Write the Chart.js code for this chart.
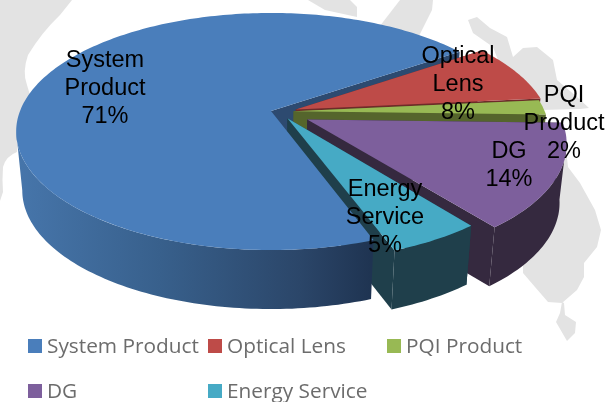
<!DOCTYPE html>
<html lang="en">
<head>
    <title>Product Mix</title>
    <script src="https://cdn.jsdelivr.net/npm/chart.js"></script>
    <style>
        body { margin: 0; background: #fff; }
        #wrap { position: relative; width: 607px; height: 402px; overflow: hidden; }
        #map, #pieChart { position: absolute; left: 0; top: 0; }
        .key { position: absolute; font: 20.8px "Open Sans", sans-serif; color: #6c6c6c; white-space: nowrap; line-height: 28px; }
        .key i { position: absolute; left: -19px; top: 8px; width: 14px; height: 14px; }
    </style>
</head>
<body>
<div id="wrap">
    <svg id="map" width="607" height="402" fill="#e3e3e3">
        <path d="M72 0 L60 15 Q42 32 28 55 Q22 72 27 85 L30 95 L20 115 L17 152 Q6 156 3 167 Q2 180 3 192 L0 201 L0 0 Z"/>
        <path d="M308 0 L325 10 L357 17 L357 7 L350 0 Z"/>
        <path d="M400 0 L383 22 L370 40 L417 40 L432 10 L433 0 Z"/>
        <path d="M468 20 L477 17 L490 28 L507 37 L513 57 L523 48 L537 47 L553 60 L557 80 L577 97 L589 108 L580 109 L540 110 L498 60 L493 47 L473 33 Z"/>
        <path d="M560 130 L565 140 L568 167 L580 183 L595 210 L601 230 L597 247 L584 263 L584 277 L577 290 L562 303 L548 302 L535 287 L523 273 L523 262 L500 240 Z"/>
        <path d="M562 302 L560 313 L556 322 L567 341 L575 333 L576 322 L565 315 L564 303 Z"/>
    </svg>
    <canvas id="pieChart" width="607" height="402"></canvas>
    <div id="legend"></div>
</div>

<script>
    const categories = ['System Product', 'Optical Lens', 'PQI Product', 'DG', 'Energy Service'];
    const shares = [71, 8, 2, 14, 5];
    const explosion = [0, 10, 9, 16, 9];
    const explosionDir = [0, 82, 92, 117, 134];
    const sliceColors = ['#4a7ebb', '#be4b48', '#98b954', '#7d5f9c', '#46aac5'];
    const wallColors = ['#2d4a70', '#6e2b29', '#55652c', '#35293f', '#1f3f4b'];
    const labelSpots = [[105, 61], [458, 57], [564, 96], [509, 152], [385, 190]];
    const legendSpots = [[47, 331], [227, 331], [406, 331], [47, 376], [227, 376]];

    // tilted view of the pie, the chart's own angles get mapped through this
    const view = { cx: 271, cy: 111, rx: 251, ry: 115, k: 0.173, depth: 59, shrink: 0.976 };

    function project(u, v, low) {
        const w = 1 - view.k * v;
        let x = view.cx + view.rx * u / w;
        let y = view.cy + view.ry * v / w;
        if (low) {
            x = view.cx + (x - view.cx) * view.shrink;
            y += view.depth;
        }
        return [x, y];
    }

    function sliceGeom(el, i) {
        let start = el.startAngle + Math.PI / 2;
        let end = el.endAngle + Math.PI / 2;
        if (start >= 2 * Math.PI) {
            start -= 2 * Math.PI;
            end -= 2 * Math.PI;
        }
        const dir = explosionDir[i] * Math.PI / 180;
        const shift = el.options.offset / 100;
        const ox = shift * Math.sin(dir);
        const oy = -shift * Math.cos(dir);
        const at = (a, low) => project(ox + Math.sin(a), oy - Math.cos(a), low);
        const tip = low => project(ox, oy, low);
        return { start, end, at, tip };
    }

    function poly(ctx, pts, fill) {
        ctx.beginPath();
        pts.forEach((p, i) => i ? ctx.lineTo(p[0], p[1]) : ctx.moveTo(p[0], p[1]));
        ctx.closePath();
        ctx.fillStyle = fill;
        ctx.fill();
    }

    function arcPoints(g, from, to, low) {
        const pts = [];
        const steps = Math.max(2, Math.ceil((to - from) / 0.02));
        for (let i = 0; i <= steps; i++) pts.push(g.at(from + (to - from) * i / steps, low));
        return pts;
    }

    function cutWall(ctx, g, a, fill) {
        poly(ctx, [g.tip(false), g.at(a, false), g.at(a, true), g.tip(true)], fill);
    }

    function rimWall(ctx, g, fill) {
        // only the part of the rim that faces the viewer
        const lo = 100 * Math.PI / 180, hi = 260 * Math.PI / 180;
        const from = Math.max(g.start, lo), to = Math.min(g.end, hi);
        if (to <= from) return;
        poly(ctx, arcPoints(g, from, to, false).concat(arcPoints(g, from, to, true).reverse()), fill);
    }

    function topFace(ctx, g, fill) {
        poly(ctx, [g.tip(false)].concat(arcPoints(g, g.start, g.end, false)), fill);
    }

    const tiltedPie = {
        id: 'tiltedPie',
        beforeDatasetsDraw(chart) {
            const ctx = chart.ctx;
            const arcs = chart.getDatasetMeta(0).data;
            const blue = sliceGeom(arcs[0], 0);
            ctx.save();
            cutWall(ctx, blue, blue.end, wallColors[0]);
            [1, 2, 3, 4].forEach(i => {
                const g = sliceGeom(arcs[i], i);
                cutWall(ctx, g, g.start, wallColors[i]);
                cutWall(ctx, g, g.end, wallColors[i]);
                rimWall(ctx, g, wallColors[i]);
                topFace(ctx, g, arcs[i].options.backgroundColor);
            });
            const rim = ctx.createLinearGradient(20, 0, 370, 0);
            rim.addColorStop(0, '#4675aa');
            rim.addColorStop(0.4, '#38608c');
            rim.addColorStop(0.8, '#2b4669');
            rim.addColorStop(1, '#1f3452');
            rimWall(ctx, blue, rim);
            topFace(ctx, blue, arcs[0].options.backgroundColor);
            ctx.restore();
            return false;
        },
        afterDraw(chart) {
            const ctx = chart.ctx;
            ctx.save();
            ctx.fillStyle = '#000';
            ctx.font = '23.5px "Liberation Sans", Arial, sans-serif';
            ctx.textAlign = 'center';
            ctx.textBaseline = 'middle';
            categories.forEach((name, i) => {
                const lines = name.split(' ').concat(shares[i] + '%');
                lines.forEach((line, n) => {
                    ctx.fillText(line, labelSpots[i][0], labelSpots[i][1] + n * 27.7);
                });
            });
            ctx.restore();
        }
    };

    const chart = new Chart(document.getElementById('pieChart').getContext('2d'), {
        type: 'pie',
        data: {
            labels: categories,
            datasets: [{
                data: shares,
                backgroundColor: sliceColors,
                offset: explosion,
                borderWidth: 0
            }]
        },
        options: {
            responsive: false,
            animation: false,
            rotation: 160,
            events: [],
            plugins: {
                legend: { display: false },
                tooltip: { enabled: false }
            }
        },
        plugins: [tiltedPie]
    });

    // columns in the original legend line up, so it is laid out by hand
    const legend = document.getElementById('legend');
    categories.forEach((name, i) => {
        const key = document.createElement('div');
        key.className = 'key';
        key.style.left = legendSpots[i][0] + 'px';
        key.style.top = legendSpots[i][1] + 'px';
        key.textContent = name;
        const box = document.createElement('i');
        box.style.background = sliceColors[i];
        key.appendChild(box);
        legend.appendChild(key);
    });
</script>
</body>
</html>
